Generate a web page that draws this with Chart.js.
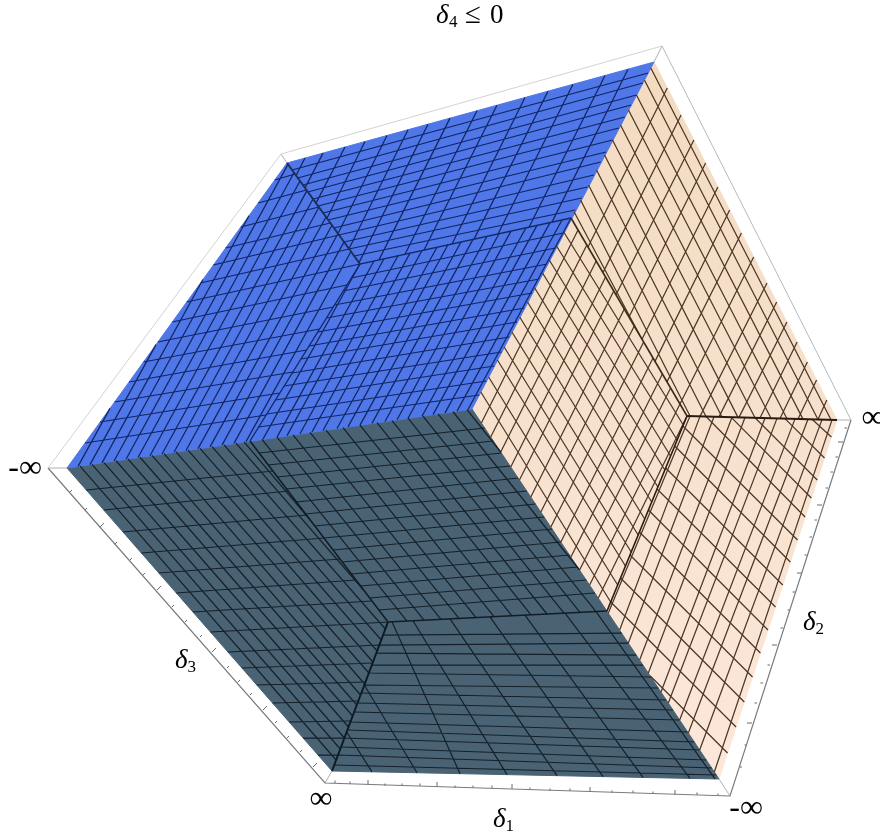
<!DOCTYPE html>
<html>
<head>
<meta charset="utf-8">
<title>delta4</title>
<style>
html, body { margin: 0; padding: 0; background: #fff; overflow: hidden; }
canvas { display: block; }
</style>
<script src="https://cdn.jsdelivr.net/npm/chart.js@4"></script>
</head>
<body>
<canvas id="cubeChart" width="880" height="837"></canvas>
<script>
// corners and fold points of the cube (x, y in plot units)
var cornerL = [67, 468], cornerT = [287, 163], cornerR = [654, 62], cornerC = [472, 409];
var cornerE = [837, 420], cornerF = [719, 779], cornerB = [332, 771];
var foldX = [360, 264], foldY = [571, 218], foldW = [250, 441];
var foldV = [388, 622], foldU = [607, 611], foldZ = [687, 416];

var frameTop = [[48, 468], [281, 154], [662, 46]];
var frameRight = [[662, 46], [851, 420]];
var frameLower = [[851, 420], [730, 796], [325, 783], [48, 468]];
var frameLinks = [[281, 154], [287, 163], [662, 46], [654, 62], [851, 420], [837, 420], [730, 796], [719, 779], [325, 783], [332, 771], [48, 468], [67, 468]];

var ticksLeftX = [70, 85, 100, 115, 130, 143, 157, 172, 185, 200, 212, 227, 238, 250, 263, 275, 287, 300, 313];
var ticksLeftY = [492, 510, 527, 544, 560, 575, 590, 607, 622, 637, 652, 668, 682, 695, 710, 723, 738, 752, 767];
var ticksBottomX = [335, 350, 368, 385, 402, 420, 437, 455, 473, 492, 512, 530, 550, 570, 590, 612, 633, 653, 675, 697, 718];
var ticksBottomY = [783, 784, 785, 786, 786, 786, 787, 788, 788, 788, 789, 790, 791, 791, 792, 793, 793, 794, 795, 795, 796];
var ticksRightX = [742, 747, 752, 757, 763, 770, 777, 783, 790, 795, 802, 807, 812, 817, 822, 828, 833, 838, 843, 847];
var ticksRightY = [767, 745, 723, 703, 683, 665, 645, 628, 610, 592, 573, 555, 537, 520, 505, 488, 472, 457, 442, 428];

// blue face, mesh line crossings along its edges and folds
var blueTopFlatA = [170, 178, 185, 192, 199, 206, 213, 220, 228, 235, 242, 249, 256];
var blueTopFlatB = [73, 83, 95, 105, 117, 128, 140, 152, 162, 175, 187, 198, 210];
var blueTopSteepA = [305, 323, 345, 365, 387, 408, 428, 450, 477, 497, 525, 548, 573, 605, 628];
var blueTopSteepB = [296, 305, 316, 327, 338, 349, 359, 379, 405, 424, 452, 474, 498, 529, 552];
var blueLeftFlatA = [180, 203, 227, 248, 265, 283, 302, 322, 342, 362, 382, 402, 422, 443];
var blueLeftFlatB = [174, 190, 207, 223, 235, 249, 264, 285, 307, 329, 350, 372, 393, 415];
var blueLeftSteepA = [78, 90, 102, 114, 126, 138, 150, 162, 174, 186, 198, 210, 222, 234, 246];
var blueLeftSteepB = [110, 156, 203, 249, 288, 294, 300, 307, 313, 319, 326, 332, 338, 344, 351];
var blueMidFlatA = [278, 291, 305, 318, 332, 346, 359, 373, 386, 400, 414, 427];
var blueMidFlatB = [233, 248, 264, 279, 293, 308, 322, 337, 352, 366, 381, 395];
var blueMidSteepA = [263, 277, 287, 300, 312, 323, 337, 348, 360, 372, 385, 397, 408, 422, 433, 445, 457, 468];
var blueMidSteepB = [360, 374, 384, 398, 410, 422, 437, 448, 461, 473, 487, 499, 511, 526, 537, 550, 562, 571];

// dark face
var darkLeftFlatA = [490, 510, 532, 553, 573, 593, 612, 632, 652, 668, 685, 703, 722, 738, 755];
var darkLeftFlatB = [471, 491, 515, 538, 559, 580, 601, 622, 645, 663, 682, 701, 721, 738, 755];
var darkLeftSteepA = [80, 92, 104, 116, 128, 140, 152, 164, 176, 188, 200, 212, 224, 236, 244];
var darkLeftSteepB = [760, 749, 738, 727, 716, 705, 695, 684, 673, 662, 651, 640, 629, 590, 520];
var darkMidFlatA = [453, 465, 477, 489, 502, 514, 526, 538, 550, 562, 574, 586, 598, 610];
var darkMidFlatB = [428, 441, 453, 466, 478, 491, 504, 517, 529, 542, 555, 567, 580, 593];
var darkMidSteepA = [262, 277, 293, 310, 326, 343, 360, 377, 392, 408, 423, 438];
var darkMidSteepB = [407, 424, 441, 459, 476, 494, 512, 531, 547, 564, 580, 596];
var darkMidSideA = [453, 467];
var darkMidSideB = [570, 452];
var darkLowFlatA = [635, 645, 653, 665, 673, 685, 693, 703, 712, 722, 730, 738, 747, 755, 765];
var darkLowFlatB = [633, 643, 655, 665, 677, 688, 700, 710, 720, 732, 742, 750, 760, 768, 775];
var darkLowSteepA = [392, 413, 450, 490, 525, 565, 596];
var darkLowSteepB = [460, 507, 557, 603, 643, 690, 715];
var darkLowSideA = [685, 732];
var darkLowSideB = [417, 372];

// peach face
var peachTopLeftA = [88, 115, 140, 163, 187, 210, 233, 257, 283, 302, 322, 342, 362, 380, 400];
var peachTopLeftB = [588, 603, 616, 629, 642, 655, 667, 680, 700, 719, 739, 760, 780, 798, 818];
var peachTopRightA = [68, 80, 95, 110, 125, 140, 155, 170, 185, 200, 212];
var peachTopRightB = [831, 818, 803, 787, 771, 755, 738, 722, 706, 690, 640];
var peachMidRightA = [232, 246, 260, 273, 288, 302, 317, 332, 347, 360, 377, 392];
var peachMidRightB = [425, 440, 456, 470, 487, 502, 519, 535, 552, 566, 585, 602];
var peachMidLeftA = [423, 437, 452, 467, 480, 497, 512, 527, 542, 557, 570, 585, 598];
var peachMidLeftB = [230, 245, 261, 277, 291, 309, 326, 342, 358, 374, 388, 404, 416];
var peachLowDiagA = [812, 785, 755, 731, 706];
var peachLowDiagB = [437, 458, 480, 498, 517];
var peachLowDiag2A = [426, 446, 468, 489, 510, 532, 555, 578, 602];
var peachLowDiag2B = [540, 562, 585, 607, 630, 653, 677, 702, 727];
var peachLowDiag3A = [676];
var peachLowDiag3B = [753];
var peachLowSteepA = [690, 700, 714, 732, 745, 765, 777, 795, 808, 822, 832];
var peachLowSteepB = [613, 630, 643, 660, 673, 692, 703, 720, 733, 750, 772];

function pt(p) { return { x: p[0], y: p[1] }; }
function pts(list) { return list.map(pt); }

// where a mesh line meets a path, given the x or y value that was read there
function hit(path, axis, v) {
    var k = axis === 'x' ? 0 : 1;
    for (var i = 0; i < path.length - 1; i++) {
        var a = path[i], b = path[i + 1];
        if ((v >= a[k] && v <= b[k]) || (v <= a[k] && v >= b[k])) {
            var t = (v - a[k]) / ((b[k] - a[k]) || 1);
            return { x: a[0] + (b[0] - a[0]) * t, y: a[1] + (b[1] - a[1]) * t };
        }
    }
    return pt(path[path.length - 1]);
}

// segments with a null point between them, so one dataset holds the whole family
function mesh(pathA, axisA, valsA, pathB, axisB, valsB) {
    var out = [];
    valsA.forEach(function(v, i) {
        out.push(hit(pathA, axisA, v), hit(pathB, axisB, valsB[i]), { x: null, y: null });
    });
    return out;
}

function ticks(xs, ys, dx, dy) {
    var out = [];
    xs.forEach(function(x, i) {
        var n = i % 4 === 2 ? 2 : 1;
        out.push({ x: x, y: ys[i] }, { x: x + dx * n, y: ys[i] + dy * n }, { x: null, y: null });
    });
    return out;
}

var blueMesh = [].concat(
    mesh([cornerT, foldX], 'y', blueTopFlatA, [cornerR, foldY], 'y', blueTopFlatB),
    mesh([cornerT, cornerR], 'x', blueTopSteepA, [cornerT, foldX, foldY], 'x', blueTopSteepB),
    mesh([cornerL, cornerT], 'y', blueLeftFlatA, [cornerT, foldX, foldW], 'y', blueLeftFlatB),
    mesh([cornerL, foldW], 'x', blueLeftSteepA, [cornerL, cornerT, foldX], 'x', blueLeftSteepB),
    mesh([foldX, foldW], 'y', blueMidFlatA, [foldY, cornerC], 'y', blueMidFlatB),
    mesh([foldW, cornerC], 'x', blueMidSteepA, [foldX, foldY], 'x', blueMidSteepB)
);
var darkMesh = [].concat(
    mesh([cornerL, cornerB], 'y', darkLeftFlatA, [foldW, foldV, cornerB], 'y', darkLeftFlatB),
    mesh([cornerL, foldW], 'x', darkLeftSteepA, [foldW, foldV, cornerB], 'y', darkLeftSteepB),
    mesh([foldW, foldV], 'y', darkMidFlatA, [cornerC, foldU], 'y', darkMidFlatB),
    mesh([foldW, cornerC], 'x', darkMidSteepA, [foldV, foldU], 'x', darkMidSteepB),
    mesh([foldW, cornerC], 'x', darkMidSideA, [cornerC, foldU], 'y', darkMidSideB),
    mesh([foldV, cornerB], 'y', darkLowFlatA, [foldU, cornerF], 'y', darkLowFlatB),
    mesh([foldV, foldU], 'x', darkLowSteepA, [cornerB, cornerF], 'x', darkLowSteepB),
    mesh([foldV, cornerB], 'y', darkLowSideA, [cornerB, cornerF], 'x', darkLowSideB)
);
var peachMesh = [].concat(
    mesh([cornerR, cornerE], 'y', peachTopLeftA, [foldY, foldZ, cornerE], 'x', peachTopLeftB),
    mesh([cornerR, foldY], 'y', peachTopRightA, [foldY, foldZ, cornerE], 'x', peachTopRightB),
    mesh([foldY, cornerC], 'y', peachMidRightA, [foldZ, foldU], 'y', peachMidRightB),
    mesh([cornerC, foldU], 'y', peachMidLeftA, [foldY, foldZ], 'y', peachMidLeftB),
    mesh([foldZ, cornerE], 'x', peachLowDiagA, [cornerE, cornerF], 'y', peachLowDiagB),
    mesh([foldZ, foldU], 'y', peachLowDiag2A, [cornerE, cornerF], 'y', peachLowDiag2B),
    mesh([foldU, cornerF], 'y', peachLowDiag3A, [cornerE, cornerF], 'y', peachLowDiag3B),
    mesh([foldZ, cornerE], 'x', peachLowSteepA, [foldU, cornerF], 'y', peachLowSteepB)
);

function lineSet(data, color, width) {
    return { data: data, borderColor: color, borderWidth: width, pointRadius: 0, fill: false, spanGaps: false };
}
function faceSet(data, color, fill) {
    return { data: pts(data), borderColor: color, backgroundColor: color, borderWidth: 1, pointRadius: 0, fill: fill };
}

function broken(list) {
    var out = [];
    for (var i = 0; i < list.length; i += 2) {
        out.push(pt(list[i]), pt(list[i + 1]), { x: null, y: null });
    }
    return out;
}

// main letter, subscript, x, baseline y
var plotLabels = [
    ['δ', '3', 187, 668],
    ['δ', '2', 815, 630],
    ['δ', '1', 505, 827]
];
var plotEnds = [
    ['∞', 321, 800], ['-∞', 25, 469], ['-∞', 746, 809], ['∞', 873, 419]
];
var titleParts = ['δ', '4', '≤', '0'];

var labelPlugin = {
    id: 'cubeLabels',
    afterDraw: function(chart) {
        var c = chart.ctx, sx = chart.scales.x, sy = chart.scales.y;
        var serif = '"Liberation Serif", serif';
        c.save();
        c.fillStyle = '#000';
        c.textBaseline = 'alphabetic';
        plotLabels.forEach(function(l) {
            var x = sx.getPixelForValue(l[2]), y = sy.getPixelForValue(l[3]);
            c.textAlign = 'left';
            c.font = 'italic 27px ' + serif;
            c.fillText(l[0], x - 12, y);
            var w = c.measureText(l[0]).width;
            c.font = '17px ' + serif;
            c.fillText(l[1], x - 12 + w, y + 4);
        });
        c.textAlign = 'center';
        c.textBaseline = 'middle';
        c.font = '32px ' + serif;
        plotEnds.forEach(function(l) {
            c.fillText(l[0], sx.getPixelForValue(l[1]), sy.getPixelForValue(l[2]));
        });
        c.textAlign = 'left';
        c.textBaseline = 'alphabetic';
        var ty = sy.getPixelForValue(23);
        c.font = 'italic 27px ' + serif;
        c.fillText(titleParts[0], sx.getPixelForValue(436), ty);
        c.font = '17px ' + serif;
        c.fillText(titleParts[1], sx.getPixelForValue(449), ty + 4);
        c.font = '29px ' + serif;
        c.fillText(titleParts[2], sx.getPixelForValue(465), ty);
        c.font = '27px ' + serif;
        c.fillText(titleParts[3], sx.getPixelForValue(490), ty);
        c.restore();
    }
};

window.onload = function() {
    var ctx = document.getElementById('cubeChart').getContext('2d');
    var peach = ctx.createLinearGradient(0, 62, 0, 779);
    peach.addColorStop(0, '#f2dbc0');
    peach.addColorStop(1, '#fce7da');
    new Chart(ctx, {
        type: 'line',
        data: {
            datasets: [
                lineSet(pts([cornerT, foldX]), '#1b2f5c', 2),
                lineSet(pts([foldW, foldX, foldY]), '#14296b', 1.4),
                lineSet(pts([foldW, foldV, foldU]), '#111c26', 1.6),
                lineSet(pts([foldV, cornerB]), '#0d1a24', 2),
                lineSet(pts([foldY, foldZ]), '#3e2a18', 1.6),
                lineSet(pts([foldZ, cornerE]), '#2a1a10', 2.2),
                lineSet(pts([foldZ, foldU]), '#2a1a10', 1.6),
                lineSet(blueMesh, '#122565', 1.25),
                lineSet(darkMesh, '#14212a', 1.25),
                lineSet(peachMesh, '#4c3626', 1.25),
                lineSet(pts(frameTop), '#d2d2d2', 1),
                lineSet(pts(frameRight), '#b4babd', 1),
                lineSet(pts(frameLower), '#777c80', 1.2),
                lineSet(broken(frameLinks), '#b0b0b0', 1),
                lineSet(ticks(ticksLeftX, ticksLeftY, 2, -2), '#6a6a6a', 1),
                lineSet(ticks(ticksBottomX, ticksBottomY, 0, -2.5), '#6a6a6a', 1),
                lineSet(ticks(ticksRightX, ticksRightY, -2.5, 0), '#6a6a6a', 1),
                faceSet([cornerL, cornerT, cornerR], '#4f77e8', '+1'),
                faceSet([cornerL, cornerC, cornerR], '#4f77e8', false),
                faceSet([cornerL, cornerC, cornerF], '#4a6374', '+1'),
                faceSet([cornerL, cornerB, cornerF], '#4a6374', false),
                faceSet([cornerC, cornerR, cornerE], peach, '+1'),
                faceSet([cornerC, cornerF, cornerE], peach, false)
            ]
        },
        options: {
            responsive: false,
            animation: false,
            layout: { padding: 0 },
            plugins: { legend: { display: false }, tooltip: { enabled: false } },
            scales: {
                x: { type: 'linear', display: false, min: 0, max: 880 },
                y: { type: 'linear', display: false, min: 0, max: 837, reverse: true }
            }
        },
        plugins: [labelPlugin]
    });
};
</script>
</body>
</html>
